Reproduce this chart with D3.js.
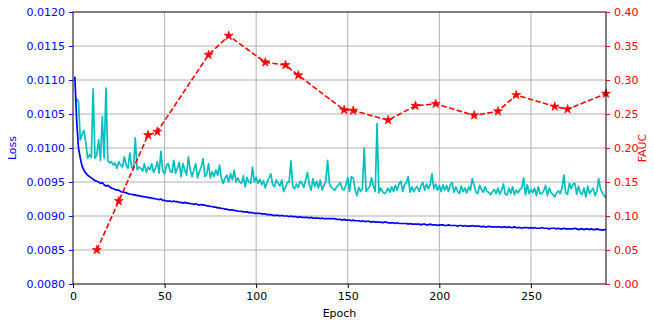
<!DOCTYPE html>
<html>
<head>
<meta charset="utf-8">
<script src="https://cdn.jsdelivr.net/npm/d3@7"></script>
<style>
  html, body { margin: 0; padding: 0; background: #fff; }
  svg { display: block; font-family: "DejaVu Sans", sans-serif; }
</style>
</head>
<body>
<svg id="chart" width="654" height="323"></svg>
<script>
// ---- data ----
const trainLoss = [
.01105,.01040,.01000,.00985,.00973,.00967,.00963,.00960,.00958,.00956,
.00954,.00952,.00951,.00950,.00948,.00949,.00946,.00944,.00945,.00943,
.00941,.00940,.00939,.00938,.00938,.00936,.00935,.00935,.00934,.00933,
.00932,.00932,.00931,.00931,.00930,.00930,.00929,.00929,.00928,.00928,
.00927,.00927,.00926,.00926,.00925,.00925,.00924,.00925,.00923,.00923,
.00922,.00922,.00922,.00921,.00922,.00921,.00921,.00920,.00920,.00919,
.00920,.00919,.00919,.00918,.00918,.00917,.00918,.00917,.00916,.00917,
.00916,.00916,.00915,.00915,.00914,.00914,.00913,.00913,.00912,.00912,
.00911,.00911,.00910,.00910,.00909,.00909,.00909,.00908,.00908,.00907,
.00907,.00907,.00906,.00906,.00906,.00905,.00905,.00905,.00904,.00904,
.00904,.00904,.00903,.00903,.00903,.00902,.00902,.00902,.00901,.00901,
.00901,.00901,.00900,.00901,.00900,.00900,.00900,.00899,.00900,.00899,
.00899,.00899,.00898,.00899,.00898,.00898,.00898,.00898,.00897,.00898,
.00897,.00897,.00897,.00897,.00896,.00897,.00896,.00896,.00896,.00896,
.00896,.00896,.00896,.00895,.00895,.00895,.00894,.00895,.00894,.00894,
.00894,.00893,.00894,.00893,.00893,.00893,.00892,.00893,.00892,.00892,
.00892,.00892,.00891,.00892,.00891,.00891,.00891,.00891,.00890,.00891,
.00891,.00890,.00890,.00890,.00890,.00889,.00890,.00889,.00889,.00889,
.00889,.00889,.00888,.00889,.00888,.00888,.00888,.00888,.00888,.00887,
.00888,.00888,.00887,.00887,.00888,.00887,.00887,.00887,.00886,.00887,
.00887,.00887,.00886,.00886,.00887,.00886,.00886,.00886,.00886,.00885,
.00886,.00886,.00885,.00886,.00885,.00885,.00885,.00886,.00885,.00885,
.00885,.00885,.00884,.00885,.00884,.00884,.00885,.00884,.00884,.00884,
.00884,.00884,.00884,.00883,.00884,.00884,.00883,.00884,.00883,.00883,
.00884,.00883,.00883,.00883,.00882,.00883,.00883,.00883,.00882,.00883,
.00882,.00883,.00882,.00882,.00882,.00883,.00882,.00882,.00882,.00881,
.00882,.00882,.00882,.00881,.00882,.00881,.00881,.00882,.00881,.00881,
.00881,.00881,.00881,.00882,.00881,.00880,.00881,.00881,.00880,.00881,
.00881,.00880,.00881,.00880,.00880,.00881,.00880,.00880,.00879,.00880,
.00880
];
const valLoss = [
.01070,.01072,.01068,.01012,.01020,.01026,.01008,.00985,.00990,.00986,
.01087,.00985,.00990,.01012,.00982,.01046,.00985,.01088,.00982,.00978,
.00980,.00975,.00978,.00970,.00980,.00975,.00972,.00987,.00975,.00970,
.00993,.00972,.00968,.01015,.00968,.00972,.00970,.00966,.00977,.00964,
.00972,.00968,.00977,.00964,.00970,.00980,.00963,.00995,.00966,.00962,
.00974,.00977,.00966,.00964,.00982,.00963,.00970,.00979,.00958,.00977,
.00968,.00960,.00987,.00968,.00958,.00968,.00977,.00956,.00965,.00972,
.00984,.00958,.00962,.00977,.00956,.00965,.00958,.00968,.00960,.00975,
.00956,.00948,.00956,.00960,.00950,.00962,.00953,.00967,.00950,.00956,
.00950,.00948,.00959,.00943,.00957,.00950,.00948,.00972,.00950,.00957,
.00948,.00954,.00946,.00952,.00941,.00950,.00956,.00962,.00946,.00943,
.00953,.00948,.00944,.00953,.00936,.00942,.00949,.00950,.00981,.00943,
.00940,.00947,.00942,.00951,.00948,.00942,.00953,.00964,.00946,.00938,
.00955,.00943,.00951,.00941,.00953,.00938,.00945,.00951,.00982,.00948,
.00942,.00940,.00938,.00943,.00946,.00949,.00940,.00938,.00946,.00956,
.00936,.00958,.00956,.00939,.00930,.00942,.00936,.00940,.01000,.00936,
.00940,.00943,.00956,.00944,.00936,.01036,.00934,.00941,.00936,.00933,
.00935,.00941,.00935,.00943,.00936,.00945,.00938,.00947,.00951,.00936,
.00946,.00949,.00958,.00935,.00943,.00936,.00941,.00943,.00936,.00945,
.00949,.00938,.00947,.00940,.00946,.00962,.00940,.00947,.00938,.00945,
.00936,.00946,.00938,.00945,.00936,.00946,.00949,.00935,.00943,.00936,
.00933,.00944,.00936,.00941,.00934,.00943,.00938,.00955,.00945,.00935,
.00933,.00945,.00939,.00935,.00943,.00936,.00935,.00931,.00936,.00939,
.00933,.00941,.00932,.00938,.00947,.00932,.00931,.00941,.00933,.00943,
.00931,.00938,.00934,.00939,.00941,.00956,.00931,.00946,.00933,.00939,
.00934,.00941,.00930,.00943,.00933,.00933,.00937,.00945,.00930,.00941,
.00934,.00932,.00928,.00934,.00937,.00933,.00941,.00960,.00934,.00932,
.00948,.00940,.00947,.00948,.00932,.00944,.00934,.00932,.00941,.00928,
.00944,.00933,.00937,.00941,.00930,.00936,.00955,.00940,.00934,.00930,
.00927
];
const faucEpochs = [13, 25, 41, 46, 74, 85, 105, 116, 123, 148, 153, 172, 187, 198, 219, 232, 242, 263, 270, 291];
const faucValues = [0.050, 0.122, 0.219, 0.224, 0.337, 0.365, 0.326, 0.322, 0.307, 0.256, 0.255, 0.241, 0.262, 0.265, 0.248, 0.254, 0.278, 0.261, 0.257, 0.280];
const xTicks = [0, 50, 100, 150, 200, 250];
const lossTicks = [0.0080, 0.0085, 0.0090, 0.0095, 0.0100, 0.0105, 0.0110, 0.0115, 0.0120];
const faucTicks = [0.00, 0.05, 0.10, 0.15, 0.20, 0.25, 0.30, 0.35, 0.40];

// ---- layout ----
const L = 73, R = 606, T = 12, B = 284;
const svg = d3.select("#chart");
const x = d3.scaleLinear().domain([0, 291]).range([L, R]);
const yL = d3.scaleLinear().domain([0.008, 0.012]).range([B, T]);
const yR = d3.scaleLinear().domain([0, 0.4]).range([B, T]);
const lossEpochs = d3.range(1, trainLoss.length + 1);

const BLUE = "#0000ff", CYAN = "#00bfbf", RED = "#ff0000";
const FS = "11px";

// grid
const grid = svg.append("g");
grid.selectAll(".gx").data(xTicks.slice(1)).enter().append("line")
  .attr("x1", d => x(d)).attr("x2", d => x(d)).attr("y1", T).attr("y2", B)
  .attr("stroke", "#b0b0b0").attr("stroke-width", 1);
grid.selectAll(".gy").data(lossTicks.slice(1, -1)).enter().append("line")
  .attr("x1", L).attr("x2", R).attr("y1", d => yL(d)).attr("y2", d => yL(d))
  .attr("stroke", "#b0b0b0").attr("stroke-width", 1);

// clip
svg.append("clipPath").attr("id", "clip").append("rect")
  .attr("x", L).attr("y", T).attr("width", R - L).attr("height", B - T);

const plot = svg.append("g").attr("clip-path", "url(#clip)");
const line = (ys) => d3.line().x((d, i) => x(lossEpochs[i])).y(d => ys(d));

plot.append("path").datum(valLoss).attr("d", line(yL))
  .attr("fill", "none").attr("stroke", CYAN).attr("stroke-width", 1.7).attr("stroke-linejoin", "round");
plot.append("path").datum(trainLoss).attr("d", line(yL))
  .attr("fill", "none").attr("stroke", BLUE).attr("stroke-width", 1.7).attr("stroke-linejoin", "round");

const fauc = faucEpochs.map((e, i) => [e, faucValues[i]]);
svg.append("path").datum(fauc)
  .attr("d", d3.line().x(d => x(d[0])).y(d => yR(d[1])))
  .attr("fill", "none").attr("stroke", RED).attr("stroke-width", 1.6)
  .attr("stroke-dasharray", "5.5,2.4");
svg.selectAll(".star").data(fauc).enter().append("path")
  .attr("d", d3.symbol().type(d3.symbolStar).size(26))
  .attr("transform", d => `translate(${x(d[0])},${yR(d[1])})`)
  .attr("fill", RED).attr("stroke", RED).attr("stroke-width", 0.6);

// spines
svg.append("rect").attr("x", L).attr("y", T).attr("width", R - L).attr("height", B - T)
  .attr("fill", "none").attr("stroke", "#000").attr("stroke-width", 1);

// axes
function styleAxis(g, color) {
  g.select(".domain").remove();
  g.selectAll(".tick line").attr("stroke", color);
  g.selectAll(".tick text").attr("fill", color).style("font-size", FS).style("font-family", "DejaVu Sans");
}
const gx = svg.append("g").attr("transform", `translate(0,${B})`)
  .call(d3.axisBottom(x).tickValues(xTicks).tickFormat(d3.format("d")).tickSize(4).tickPadding(4));
styleAxis(gx, "#000");
const gl = svg.append("g").attr("transform", `translate(${L},0)`)
  .call(d3.axisLeft(yL).tickValues(lossTicks).tickFormat(d3.format(".4f")).tickSize(4).tickPadding(4));
styleAxis(gl, BLUE);
const gr = svg.append("g").attr("transform", `translate(${R},0)`)
  .call(d3.axisRight(yR).tickValues(faucTicks).tickFormat(d3.format(".2f")).tickSize(4).tickPadding(4));
styleAxis(gr, RED);

// labels
svg.append("text").attr("x", (L + R) / 2).attr("y", 317).attr("text-anchor", "middle")
  .style("font-size", FS).attr("fill", "#000").text("Epoch");
svg.append("text").attr("transform", `translate(16,${(T + B) / 2}) rotate(-90)`).attr("text-anchor", "middle")
  .style("font-size", FS).attr("fill", BLUE).text("Loss");
svg.append("text").attr("transform", `translate(646,${(T + B) / 2}) rotate(-90)`).attr("text-anchor", "middle")
  .style("font-size", FS).attr("fill", RED).text("FAUC");
</script>
</body>
</html>
